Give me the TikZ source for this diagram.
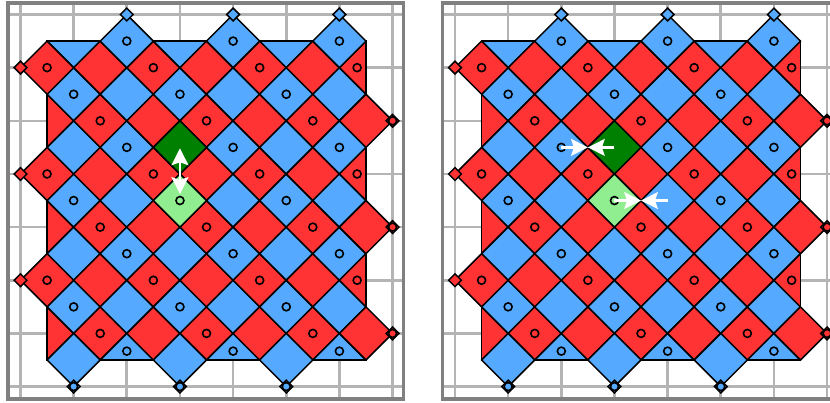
\documentclass[tikz,border=0pt]{standalone}
\usetikzlibrary{arrows.meta}
\definecolor{tred}{RGB}{255,51,51}
\definecolor{tblue}{RGB}{85,170,255}
\definecolor{dgreen}{RGB}{0,128,0}
\definecolor{lgreen}{RGB}{144,238,144}
\definecolor{gridgray}{RGB}{180,180,180}
\definecolor{framegray}{RGB}{128,128,128}
\tikzset{
  tile/.style={draw=black, line width=0.8pt, line join=miter},
  gridline/.style={draw=gridgray, line width=1.4pt},
  pframe/.style={draw=framegray, line width=2pt},
  site/.style={draw=black, line width=0.85pt},
  warrow/.style={draw=white, line width=1.3pt, -{Stealth[length=9pt,width=9pt,inset=1.5pt]}},
  warrowboth/.style={draw=white, line width=1.3pt, {Stealth[length=9pt,width=9pt,inset=1.5pt]}-{Stealth[length=9pt,width=9pt,inset=1.5pt]}},
}
\newcommand\dmd[4]{\filldraw[tile, fill=#1] (#2-#4,#3) -- (#2,#3-#4) -- (#2+#4,#3) -- (#2,#3+#4) -- cycle;}
\newcommand\drawpanel{%
  \foreach \k in {0,...,7}{
    \draw[gridline] (\k,-0.21) -- (\k,7.24);
    \draw[gridline] (-0.235,\k) -- (7.205,\k);
  }
  \draw[pframe] (-0.235,-0.21) rectangle (7.205,7.24);
  \begin{scope}
    \clip (0.5,0.5) rectangle (6.5,6.5);
    \foreach \i in {1,...,13}{
      \foreach \j in {1,...,13}{
        \pgfmathtruncatemacro\tpp{mod(\i+\j,2)}
        \ifnum\tpp=1
          \pgfmathtruncatemacro\tcc{mod(\i,2)}
          \ifnum\tcc=1 \dmd{tred}{\i/2}{\j/2}{0.5}\else\dmd{tblue}{\i/2}{\j/2}{0.5}\fi
        \fi
      }
    }
  \end{scope}
  \draw[tile] (0.5,0.5) rectangle (6.5,6.5);
  \foreach \x in {2,4,6}{\dmd{tblue}{\x}{0.5}{0.5}}
  \foreach \x in {1,3,5}{\dmd{tblue}{\x}{6.5}{0.5}}
  \foreach \y in {1,3,5}{\dmd{tred}{0.5}{\y}{0.5}}
  \foreach \y in {2,4,6}{\dmd{tred}{6.5}{\y}{0.5}}
  \dmd{dgreen}{3}{2.5}{0.5}
  \dmd{lgreen}{3}{3.5}{0.5}
  \foreach \x in {2,4,6}{\dmd{tblue}{\x}{0}{0.12}}
  \foreach \x in {1,3,5}{\dmd{tblue}{\x}{7}{0.12}}
  \foreach \y in {1,3,5}{\dmd{tred}{0}{\y}{0.12}}
  \foreach \y in {2,4,6}{\dmd{tred}{7}{\y}{0.12}}
  \foreach \i in {1,...,13}{
    \foreach \j in {1,...,13}{
      \pgfmathtruncatemacro\tpp{mod(\i+\j,2)}
      \pgfmathtruncatemacro\tvv{mod(\i-\j+17,4)}
      \ifnum\tpp=1 \ifnum\tvv=0
        \pgfmathsetmacro\tcx{\i==13 ? 6.5-1/6 : \i/2}
        \pgfmathsetmacro\tcy{\j==13 ? 6.5-1/6 : \j/2}
        \draw[site] (\tcx,\tcy) circle (0.075);
      \fi\fi
    }
  }
  \foreach \y in {2,4,6}{\draw[site] (7,\y) circle (0.075);}
  \foreach \x in {1,3,5}{\draw[site] (\x,7) circle (0.075);}
}
\begin{document}
\begin{tikzpicture}[x=1cm,y=-1cm]
\useasboundingbox (-0.3857,-0.2728) rectangle (15.230,7.291);
\clip (-0.3857,-0.2728) rectangle (15.230,7.291);
\begin{scope}
  \drawpanel
  \coordinate (L1) at (3,2.5);
  \coordinate (L2) at (3,3.5);
  \draw[warrowboth, shorten <=0.5pt, shorten >=3.5pt] (L1) -- (L2);
\end{scope}
\begin{scope}[xshift=8.175cm]
  \drawpanel
  \coordinate (R1) at (2,2.5);
  \coordinate (RM1) at (2.5,2.5);
  \coordinate (R2) at (3,2.5);
  \coordinate (R3) at (3,3.5);
  \coordinate (RM2) at (3.5,3.5);
  \coordinate (R4) at (4,3.5);
  \draw[warrow] (R1) -- (RM1);
  \draw[warrow] (R2) -- (RM1);
  \draw[warrow] (R3) -- (RM2);
  \draw[warrow] (R4) -- (RM2);
\end{scope}
\end{tikzpicture}
\end{document}
